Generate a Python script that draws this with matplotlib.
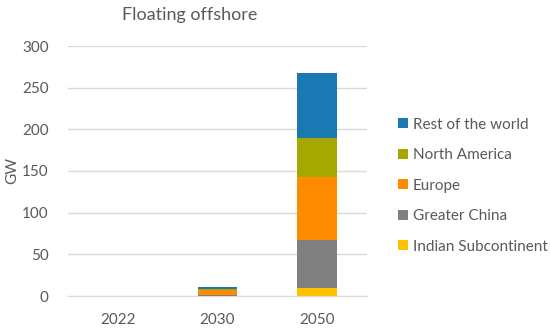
import matplotlib
matplotlib.use("Agg")
import matplotlib.pyplot as plt
import numpy as np

plt.rcParams['font.family'] = ['Lato', 'DejaVu Sans']

years = ["2022", "2030", "2050"]
series_names = ["Indian Subcontinent", "Greater China", "Europe", "North America", "Rest of the world"]
indian = [0.0, 0.3, 10]
china = [0.0, 1.5, 57]
europe = [0.1, 6.0, 76]
north_america = [0.0, 1.2, 47]
rest_world = [0.0, 2.0, 78]
colors = ["#FFC000", "#808080", "#FF8C00", "#A5A800", "#1A78B2"]

yticks = [0, 50, 100, 150, 200, 250, 300]

fig = plt.figure(figsize=(5.5, 3.28), dpi=100)
ax = fig.add_axes([68/550, 1-296/328, (367-68)/550, (296-46)/328])

x = np.arange(len(years))
bottom = np.zeros(len(years))
handles = []
for name, vals, c in zip(series_names, [indian, china, europe, north_america, rest_world], colors):
    h = ax.bar(x, vals, width=0.4, bottom=bottom, color=c, label=name, zorder=3)
    bottom += np.array(vals)
    handles.append(h)

ax.set_xlim(-0.5, 2.5)
ax.set_ylim(0, 300)
ax.set_yticks(yticks)
ax.set_xticks(x)
ax.set_xticklabels(years)
ax.tick_params(axis='both', length=0, colors='#595959', labelsize=11)
ax.tick_params(axis='x', pad=12)
ax.tick_params(axis='y', pad=14)
ax.yaxis.grid(True, color='#D9D9D9', linewidth=1, zorder=0)
for s in ['top', 'right', 'left']:
    ax.spines[s].set_visible(False)
ax.spines['bottom'].set_color('#D9D9D9')

fig.text(12/550, 1-171/328, "GW", rotation=90, ha='center', va='center', fontsize=11, color='#595959')
fig.text(190/550, 1-15/328, "Floating offshore", ha='center', va='center', fontsize=13, color='#595959')

leg = fig.legend(handles[::-1], series_names[::-1], loc='upper left',
                 bbox_to_anchor=(384/550, 1-104/328), frameon=False,
                 fontsize=11, labelcolor='#595959', handlelength=0.65, handleheight=0.65,
                 handletextpad=0.35, labelspacing=1.08)

fig.savefig("out.png", dpi=100)
